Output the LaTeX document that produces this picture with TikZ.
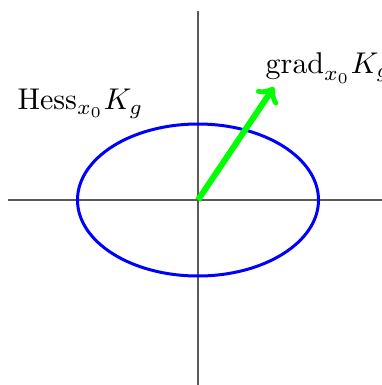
\documentclass[tikz,border=0pt]{standalone}
\usepackage{amsmath,amssymb}
\usetikzlibrary{arrows,positioning,calc}
\tikzset{%
  axis/.style={draw=black!65,line width=0.4pt},
  level/.style={draw=blue,line width=1pt},
  gradvec/.style={draw=green,line width=2pt,->}
}

\begin{document}
\begin{tikzpicture}[x=0.3333pt,y=0.3333pt]
% geometry (in px of the reference)
\def\rx{120.5}  % ellipse x radius
\def\ry{76}     % ellipse y radius

\useasboundingbox (-198,-185) rectangle (184,200);

% axes
\coordinate (o) at (0,0);
\coordinate (xl) at (-190,0);
\coordinate (xr) at (190,0);
\coordinate (yt) at (0,189);
\coordinate (yb) at (0,-190);
\draw[axis] (xl) -- (xr);
\draw[axis] (yt) -- (yb);

% level set of K_g
\draw[level] (o) ellipse ({\rx} and {\ry});

% gradient
\coordinate (tip) at (76,113);
\draw[gradvec] (o) -- (tip);

% labels
\node[anchor=west] (hesslabel) at (-191,96) {$\mathrm{Hess}_{x_0} K_g$};
\node[anchor=west] (gradlabel) at (57,132) {$\mathrm{grad}_{x_0} K_g$};

\end{tikzpicture}
\end{document}
